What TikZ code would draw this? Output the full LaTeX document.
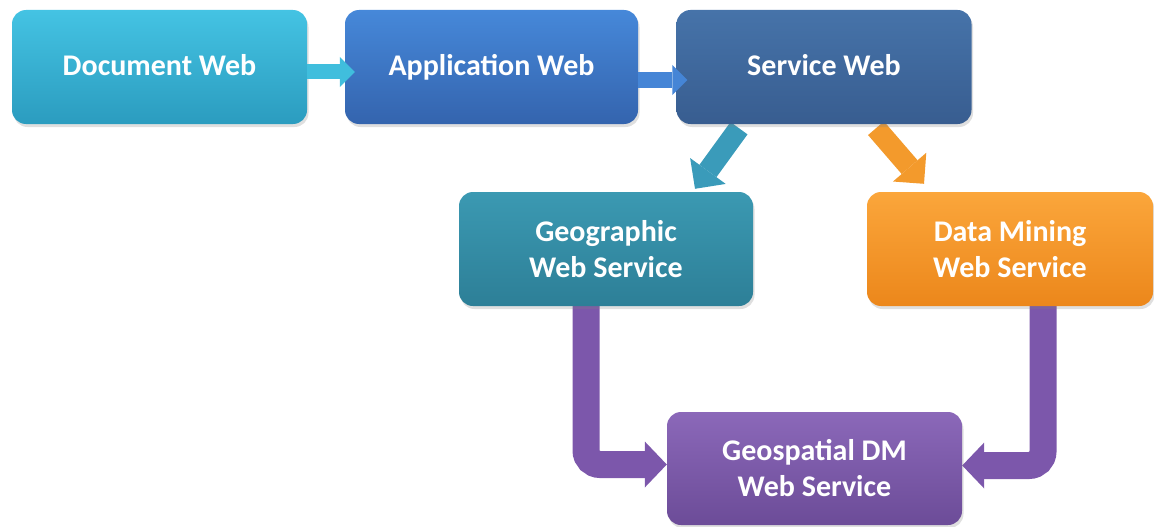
\documentclass[tikz,border=0pt]{standalone}
\usepackage{fontspec}
\setmainfont{Carlito}
\usetikzlibrary{arrows.meta,shadows,calc,backgrounds}
\definecolor{docT}{HTML}{44C3E3}
\definecolor{docB}{HTML}{2B9CBF}
\definecolor{appT}{HTML}{4688D9}
\definecolor{appB}{HTML}{3464AE}
\definecolor{swT}{HTML}{4673A9}
\definecolor{swB}{HTML}{385D90}
\definecolor{geoT}{HTML}{3B99B2}
\definecolor{geoB}{HTML}{2D7F97}
\definecolor{dmT}{HTML}{FBA63B}
\definecolor{dmB}{HTML}{EC871B}
\definecolor{gsT}{HTML}{8B68B9}
\definecolor{gsB}{HTML}{6C4C98}
\definecolor{arCyan}{HTML}{40BEDD}
\definecolor{arBlue}{HTML}{4585D6}
\definecolor{arTeal}{HTML}{3A9BBA}
\definecolor{arOrange}{HTML}{F39A2C}
\definecolor{arPurple}{HTML}{7C57AB}
\tikzset{
  box/.style={rounded corners=14pt, minimum height=114pt, inner sep=0pt,
    text=white, align=center, font=\bfseries\fontsize{30}{36}\selectfont,
    drop shadow={opacity=0.25, shadow xshift=1.5pt, shadow yshift=-3pt}},
  oneline/.style={text height=22pt, text depth=6pt},
  flowarrow/.style={line width=15pt, -{Triangle[width=30pt,length=15pt,line width=0pt]}},
  diagarrow/.style={line width=21pt, -{Triangle[width=44pt,length=22pt,line width=0pt]}},
  elbowarrow/.style={line width=27pt, rounded corners=14pt, draw=arPurple,
    -{Triangle[width=46pt,length=22pt,line width=0pt]}},
}
\begin{document}
\begin{tikzpicture}[x=1pt,y=-1pt]
\useasboundingbox (0,0) rectangle (1154,527);
\node[box, oneline, minimum width=295pt, top color=docT, bottom color=docB] (doc) at (159.5,67) {Document Web};
\node[box, oneline, minimum width=293pt, top color=appT, bottom color=appB] (app) at (491.5,67) {Application Web};
\node[box, oneline, minimum width=295pt, top color=swT, bottom color=swB] (sw) at (824,67) {Service Web};
\node[box, minimum width=294pt, top color=geoT, bottom color=geoB] (geo) at (606,249) {Geographic\\Web Service};
\node[box, minimum width=286pt, top color=dmT, bottom color=dmB] (dm) at (1010,249) {Data Mining\\Web Service};
\node[box, minimum width=295pt, minimum height=113pt, top color=gsT, bottom color=gsB] (gs) at (814.5,468.5) {Geospatial DM\\Web Service};
\begin{scope}[on background layer]
  \draw[diagarrow, draw=arTeal, arTeal] ($(sw.south)+(-85,4)$) -- ($(geo.north)+(89,-3)$);
  \draw[diagarrow, draw=arOrange, arOrange] ($(sw.south)+(52,4)$) -- ($(dm.north)+(-86,-8)$);
  \draw[elbowarrow, arPurple] ($(geo.south)+(-20,0)$) |- ($(gs.west)+(0,-4)$);
  \draw[elbowarrow, arPurple] ($(dm.south)+(33,0)$) |- ($(gs.east)+(0,-3)$);
\end{scope}
\draw[flowarrow, draw=arCyan, arCyan] ($(doc.east)+(0,5)$) -- ($(app.west)+(10,5)$);
\draw[flowarrow, draw=arBlue, arBlue] ($(app.east)+(0,13)$) -- ($(sw.west)+(11,13)$);
\end{tikzpicture}
\end{document}
